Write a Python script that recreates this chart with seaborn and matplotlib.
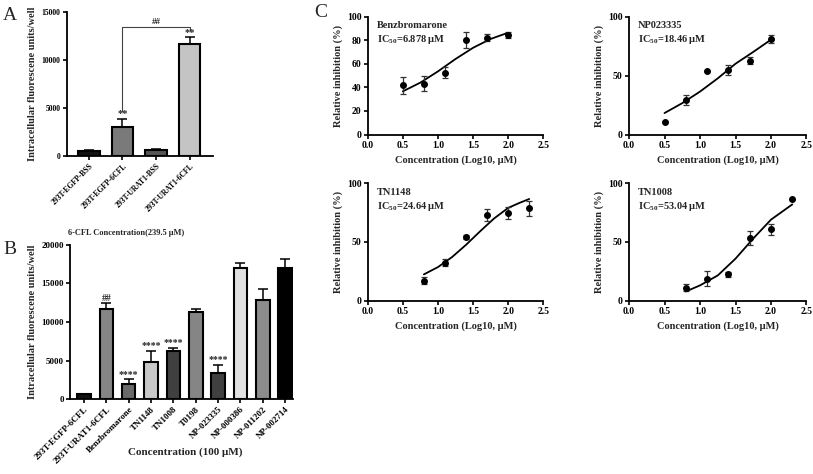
import matplotlib
matplotlib.use('Agg')
from matplotlib import pyplot as plt
import seaborn as sns
import pandas as pd

# Setup
sns.set_theme(style='ticks')
plt.rcParams['font.family'] = ['Liberation Serif', 'DejaVu Serif']
plt.rcParams['font.weight'] = 'bold'
plt.rcParams['axes.labelweight'] = 'bold'
plt.rcParams['mathtext.fontset'] = 'custom'
plt.rcParams['mathtext.rm'] = 'Liberation Serif:bold'
plt.rcParams['mathtext.default'] = 'rm'

# A : 6-CFL uptake
a_labels = ['293T-EGFP-BSS', '293T-EGFP-6CFL', '293T-URAT1-BSS', '293T-URAT1-6CFL']
a_vals = [560, 3055, 660, 11670]
a_err = [60, 800, 100, 700]
a_colors = ['#111111', '#7a7a7a', '#555555', '#c4c4c4']
a_marks = ['', '**', '', '**']

# B : compounds at 100 uM
b_labels = ['293T-EGFP-6CFL', '293T-URAT1-6CFL', 'Benzbromarone', 'TN1148', 'TN1008',
            'T0198', 'NP-023335', 'NP-000386', 'NP-011202', 'NP-002714']
b_vals = [650, 11680, 1980, 4830, 6250, 11340, 3450, 16980, 12850, 16980]
b_err = [60, 735, 600, 1465, 390, 345, 1035, 690, 1380, 1165]
b_colors = ['#111111', '#858585', '#6a6a6a', '#c8c8c8', '#404040',
            '#858585', '#404040', '#e0e0e0', '#8c8c8c', '#000000']
b_marks = ['', '##', '****', '****', '****', '', '****', '', '', '']

# C : dose-response
benz_x = [0.5, 0.8, 1.1, 1.4, 1.7, 2.0]
benz_y = [41.7, 43.1, 52.5, 80.0, 82.0, 84.3]
benz_err = [7.0, 6.5, 5.0, 7.0, 2.8, 2.5]
benz_fit_x = [0.5, 0.75, 1.0, 1.25, 1.5, 1.75, 2.0]
benz_fit_y = [36.6, 44.0, 53.5, 64.0, 73.5, 81.0, 86.3]

np_x = [0.5, 0.8, 1.1, 1.4, 1.7, 2.0]
np_y = [10.4, 29.4, 53.8, 54.6, 62.5, 81.0]
np_err = [0, 4.0, 0, 4.5, 3.0, 3.5]
np_fit_x = [0.5, 0.75, 1.0, 1.25, 1.5, 1.75, 2.0]
np_fit_y = [18.2, 26.6, 36.4, 47.6, 60.0, 70.0, 80.4]

tn1148_x = [0.8, 1.1, 1.4, 1.7, 2.0, 2.3]
tn1148_y = [16.9, 32.3, 54.3, 72.9, 74.9, 78.6]
tn1148_err = [2.9, 3.0, 2.0, 5.3, 5.0, 6.3]
tn1148_fit_x = [0.8, 1.0, 1.2, 1.4, 1.6, 1.8, 2.0, 2.15, 2.3]
tn1148_fit_y = [22.3, 28.5, 37.0, 47.5, 59.0, 70.0, 79.0, 83.0, 86.6]

tn1008_x = [0.8, 1.1, 1.4, 1.7, 2.0, 2.3]
tn1008_y = [10.9, 18.6, 22.3, 53.7, 60.6, 86.3]
tn1008_err = [2.9, 6.5, 2.3, 6.0, 5.1, 0]
tn1008_fit_x = [0.8, 1.0, 1.25, 1.5, 1.75, 2.0, 2.3]
tn1008_fit_y = [7.7, 12.9, 21.4, 35.7, 52.9, 69.0, 82.0]

fig = plt.figure(figsize=(8.13, 4.74), dpi=100)


def style_axis(ax, fs):
    for s in ['top', 'right']:
        ax.spines[s].set_visible(False)
    for s in ['left', 'bottom']:
        ax.spines[s].set_linewidth(1.3)
        ax.spines[s].set_color('black')
    ax.tick_params(direction='out', length=3, width=1.2, labelsize=fs, pad=1.5, colors='black')
    ax.set_facecolor('white')


def bar_panel(ax, labels, vals, err, colors, marks, width, xlim, ymax, ystep, fs, mark_fs):
    df = pd.DataFrame({'name': labels, 'val': vals})
    sns.barplot(data=df, x='name', y='val', hue='name', palette=colors, legend=False,
                width=width, edgecolor='black', linewidth=1.5, ax=ax, saturation=1)
    ax.errorbar(range(len(vals)), vals, yerr=[[0] * len(vals), err], fmt='none',
                ecolor='black', elinewidth=1.1, capsize=3.5, capthick=1.1, zorder=1)
    for i, m in enumerate(marks):
        if m:
            ax.text(i, vals[i] + err[i] + ymax * 0.005, m, ha='center', va='bottom', fontsize=mark_fs)
    ax.set_xlim(*xlim)
    ax.set_ylim(0, ymax)
    ax.set_yticks(range(0, ymax + 1, ystep))
    ax.set_xticks(range(len(labels)))
    ax.set_xticklabels(labels, rotation=45, ha='right', rotation_mode='anchor')
    ax.set_xlabel('')
    ax.set_ylabel('Intracellular fluorescene units/well', fontsize=7.5, labelpad=3)
    style_axis(ax, fs)


# A
axA = fig.add_axes([0.0818, 0.6709, 0.1802, 0.3038])
bar_panel(axA, a_labels, a_vals, a_err, a_colors, a_marks, 0.65, (-0.67, 3.70), 15000, 5000, 5.5, 7.5)
top = a_vals[3] + a_err[3] + 1100
axA.plot([1, 1, 3, 3], [a_vals[1] + a_err[1] + 850, top, top, a_vals[3] + a_err[3] + 750],
         color='#444444', lw=0.8, clip_on=False)
axA.text(2, top + 80, '##', ha='center', va='bottom', fontsize=6.5)
fig.text(0.155, 0.508, '6-CFL Concentration(239.5 μM)', ha='center', va='center', fontsize=6)

# B
axB = fig.add_axes([0.0861, 0.1576, 0.2743, 0.3262])
bar_panel(axB, b_labels, b_vals, b_err, b_colors, b_marks, 0.6, (-0.63, 9.35), 20000, 5000, 6.5, 7)
fig.text(0.2275, 0.047, 'Concentration (100 μM)', ha='center', va='center', fontsize=8)

# C
curves = [
    ('Benzbromarone', '6.878', benz_x, benz_y, benz_err, benz_fit_x, benz_fit_y, 20,
     [0.4523, 0.7162, 0.2159, 0.2489]),
    ('NP023335', '18.46', np_x, np_y, np_err, np_fit_x, np_fit_y, 50,
     [0.7737, 0.7162, 0.2183, 0.2489]),
    ('TN1148', '24.64', tn1148_x, tn1148_y, tn1148_err, tn1148_fit_x, tn1148_fit_y, 50,
     [0.4523, 0.3660, 0.2159, 0.2473]),
    ('TN1008', '53.04', tn1008_x, tn1008_y, tn1008_err, tn1008_fit_x, tn1008_fit_y, 50,
     [0.7737, 0.3660, 0.2183, 0.2473]),
]
for name, ic50, x, y, e, fx, fy, ystep, pos in curves:
    ax = fig.add_axes(pos)
    sns.lineplot(x=fx, y=fy, color='black', lw=1.3, ax=ax)
    ax.errorbar(x, y, yerr=e, fmt='o', color='black', ms=4, ecolor='#333333',
                elinewidth=0.9, capsize=2.5, capthick=0.9)
    ax.set_xlim(0, 2.5)
    ax.set_ylim(0, 100)
    ax.set_xticks([0, 0.5, 1.0, 1.5, 2.0, 2.5])
    ax.set_xticklabels(['0.0', '0.5', '1.0', '1.5', '2.0', '2.5'])
    ax.set_yticks(range(0, 101, ystep))
    ax.set_xlabel('Concentration (Log10, μM)', fontsize=7.5, labelpad=4)
    ax.set_ylabel('Relative inhibition (%)', fontsize=7.5, labelpad=3)
    ax.text(0.13, 96, name, fontsize=7.5, va='top')
    ax.text(0.13, 86, 'IC$_{50}$=' + ic50 + ' μM', fontsize=7.5, va='top')
    style_axis(ax, 7)

# panel letters
for lab, xx, yy in [('A', 0.004, 0.985), ('B', 0.004, 0.492), ('C', 0.386, 0.992)]:
    fig.text(xx, yy, lab, fontsize=14, fontweight='normal', va='top', ha='left')

fig.savefig('out.png', dpi=100, facecolor='white')
